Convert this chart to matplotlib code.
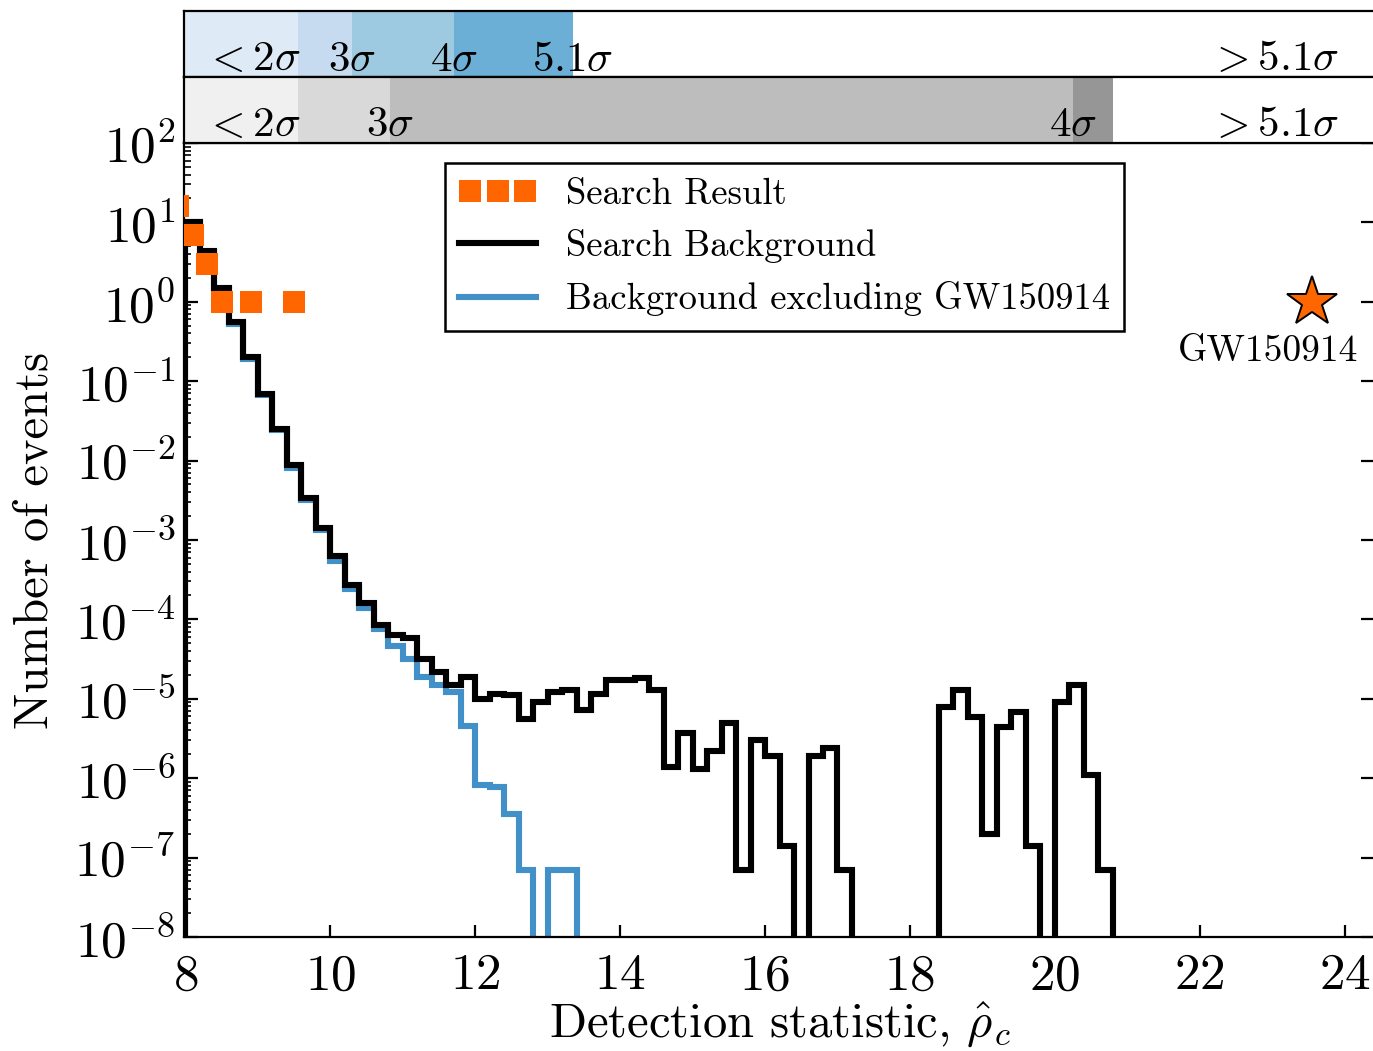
import numpy as np
import matplotlib
matplotlib.use("Agg")
import matplotlib.pyplot as plt
from matplotlib.ticker import LogLocator, NullFormatter

plt.rcParams['font.family'] = 'serif'
plt.rcParams['font.serif'] = ['cmr10']
plt.rcParams['mathtext.fontset'] = 'cm'
plt.rcParams['axes.formatter.use_mathtext'] = True

# background histograms, bin edges every 0.2 from 8.0
bg_edges = np.linspace(8.0, 20.8, 65)
bg_counts = [10.2, 4.3, 1.5, 0.55, 0.20, 0.068, 0.025, 8.7e-3, 3.4e-3, 1.4e-3,
             6.3e-4, 2.7e-4, 1.6e-4, 8.5e-5, 6.3e-5, 5.8e-5, 3.2e-5, 2.2e-5, 1.5e-5, 1.9e-5,
             1.0e-5, 1.15e-5, 1.1e-5, 5.6e-6, 9.1e-6, 1.2e-5, 1.3e-5, 7.2e-6, 1.15e-5, 1.7e-5,
             1.7e-5, 1.8e-5, 1.3e-5, 1.4e-6, 3.7e-6, 1.3e-6, 2.2e-6, 4.9e-6, 6.9e-8, 3.0e-6,
             1.9e-6, 1.4e-7, 0, 1.9e-6, 2.4e-6, 6.9e-8, 0, 0, 0, 0,
             0, 0, 7.8e-6, 1.3e-5, 5.9e-6, 2.0e-7, 4.4e-6, 6.9e-6, 1.4e-7, 0,
             9.1e-6, 1.5e-5, 1.1e-6, 6.9e-8]

excl_edges = np.linspace(8.0, 13.4, 28)
excl_counts = [10.0, 4.2, 1.45, 0.53, 0.19, 0.066, 0.024, 8.1e-3, 3.2e-3, 1.35e-3,
               5.4e-4, 2.4e-4, 1.38e-4, 7.6e-5, 4.6e-5, 3.2e-5, 1.9e-5, 1.5e-5, 1.2e-5, 4.5e-6,
               8.1e-7, 7.8e-7, 3.5e-7, 6.9e-8, 0, 6.9e-8, 6.9e-8]

# search result (candidate events)
res_x = [7.9, 8.1, 8.3, 8.5, 8.9, 9.5]
res_n = [16, 7, 3, 1, 1, 1]

gw_x, gw_n = 23.55, 1.0

# significance bands: thresholds in detection statistic
blue_edges = [9.56, 10.30, 11.71, 13.35]
grey_edges = [9.56, 10.82, 20.25, 20.80]
blue_cols = ['#deebf7', '#c6dbef', '#9ecae1', '#6baed6']
grey_cols = ['#f0f0f0', '#d9d9d9', '#bdbdbd', '#969696']
blue_labels = ['$3\\sigma$', '$4\\sigma$', '$5.1\\sigma$']
grey_labels = ['$3\\sigma$', '$4\\sigma$']

orange = '#ff6600'
blue = '#4190c8'
xmin, xmax = 7.98, 24.42

fig = plt.figure(figsize=(6.865, 5.255), dpi=200)
ax = fig.add_axes([0.134, 0.1085, 0.8675, 0.7555])
ax_b = fig.add_axes([0.134, 0.9267, 0.8675, 0.0628], sharex=ax)
ax_g = fig.add_axes([0.134, 0.864, 0.8675, 0.0627], sharex=ax)

ax.set_yscale('log', nonpositive='clip')
ax.stairs(excl_counts, excl_edges, color=blue, lw=2.2, baseline=0, zorder=2,
          label='Background excluding GW150914')
ax.stairs(bg_counts, bg_edges, color='black', lw=2.2, baseline=0, zorder=3,
          label='Search Background')
ax.plot(res_x, res_n, ls='none', marker='s', ms=7.8, mew=0, color=orange, zorder=4,
        label='Search Result')
ax.plot([gw_x], [gw_n], ls='none', marker='*', ms=19, mfc=orange, mec='black', mew=0.7, zorder=5)
ax.text(22.95, 0.24, 'GW150914', ha='center', va='center', fontsize=13.5)

ax.set_xlim(xmin, xmax)
ax.set_ylim(1e-8, 1e2)
ax.set_xticks([8, 10, 12, 14, 16, 18, 20, 22, 24])
ax.yaxis.set_major_locator(LogLocator(base=10, numticks=20))
ax.yaxis.set_minor_locator(LogLocator(base=10, subs=np.arange(2, 10), numticks=200))
ax.yaxis.set_minor_formatter(NullFormatter())
ax.tick_params(which='both', direction='in', top=False, labelsize=18.5)
ax.tick_params(axis='y', which='major', right=True, length=5, pad=3)
ax.tick_params(axis='y', which='minor', right=False, length=2.5)
ax.tick_params(axis='x', which='major', length=4.5, pad=6)
ax.spines['right'].set_visible(False)
ax.set_xlabel('Detection statistic, $\\hat{\\rho}_c$', fontsize=17.5, labelpad=0)
ax.set_ylabel('Number of events', fontsize=17.5, labelpad=6)

h, l = ax.get_legend_handles_labels()
order = [2, 1, 0]
leg = ax.legend([h[i] for i in order], [l[i] for i in order], loc='upper left',
                bbox_to_anchor=(0.219, 0.975), numpoints=3, fontsize=13.2, fancybox=False,
                framealpha=1, edgecolor='black', handlelength=2.1, handletextpad=0.8,
                labelspacing=0.5, borderpad=0.4, borderaxespad=0)
leg.get_frame().set_linewidth(0.9)

# significance strips
def strip(a, edges, cols, labels):
    bounds = [xmin] + edges
    for i, c in enumerate(cols):
        a.axvspan(bounds[i], bounds[i + 1], color=c, lw=0)
    a.set_ylim(0, 1)
    a.text(8.92, 0.1, '$<2\\sigma$', ha='center', va='baseline', fontsize=15.5)
    for x, s in zip(edges[1:], labels):
        a.text(x, 0.1, s, ha='center', va='baseline', fontsize=15.5)
    a.text(23.02, 0.1, '$>5.1\\sigma$', ha='center', va='baseline', fontsize=15.5)
    a.tick_params(left=False, bottom=False, labelleft=False, labelbottom=False)
    a.spines['right'].set_visible(False)
    for s in a.spines.values():
        s.set_linewidth(0.8)

strip(ax_b, blue_edges, blue_cols, blue_labels)
strip(ax_g, grey_edges, grey_cols, grey_labels)

fig.savefig('out.png', dpi=200)
